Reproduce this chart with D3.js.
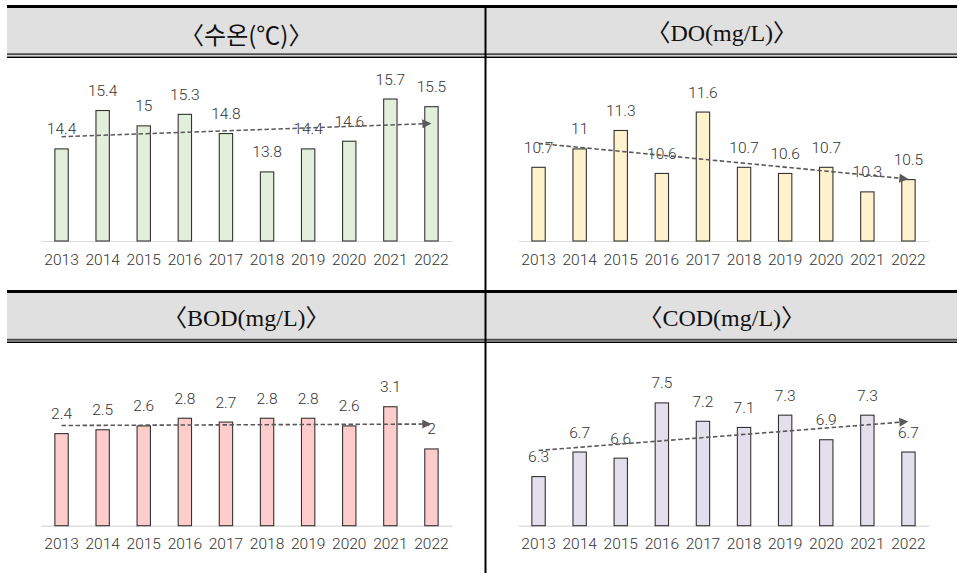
<!DOCTYPE html>
<html>
<head>
<meta charset="utf-8">
<script src="https://cdn.jsdelivr.net/npm/d3@7"></script>
<style>
  html, body { margin: 0; padding: 0; background: #fff; }
  svg { display: block; }
</style>
</head>
<body>
<svg id="chart" width="958" height="573"></svg>
<script>
// ---- data ----
const years = ["2013", "2014", "2015", "2016", "2017", "2018", "2019", "2020", "2021", "2022"];
const waterTemp = [14.4, 15.4, 15, 15.3, 14.8, 13.8, 14.4, 14.6, 15.7, 15.5];
const dissolvedOxygen = [10.7, 11, 11.3, 10.6, 11.6, 10.7, 10.6, 10.7, 10.3, 10.5];
const bodValues = [2.4, 2.5, 2.6, 2.8, 2.7, 2.8, 2.8, 2.6, 3.1, 2];
const codValues = [6.3, 6.7, 6.6, 7.5, 7.2, 7.1, 7.3, 6.9, 7.3, 6.7];
const titles = ["〈수온(℃)〉", "〈DO(mg/L)〉", "〈BOD(mg/L)〉", "〈COD(mg/L)〉"];
const tempDomain = [12, 16];
const doDomain = [9.5, 12];
const bodDomain = [0, 4];
const codDomain = [5.5, 8];

// ---- layout / style ----
const svg = d3.select("#chart");
const W = 958, H = 573;
const divX = 485.5;
const panels = [
  { title: titles[0], values: waterTemp, domain: tempDomain, fill: "#e2efda", x0: 41, x1: 452, base: 241, titleY: 33, font: "'Noto Sans CJK KR', sans-serif", size: "24px", cx: (7 + divX) / 2 },
  { title: titles[1], values: dissolvedOxygen, domain: doDomain, fill: "#fff2cc", x0: 518, x1: 929, base: 241, titleY: 33, font: "'Liberation Serif', 'Noto Sans CJK KR', serif", size: "24px", cx: (divX + W) / 2 },
  { title: titles[2], values: bodValues, domain: bodDomain, fill: "#ffcccc", x0: 41, x1: 452, base: 525.7, titleY: 318, font: "'Liberation Serif', 'Noto Sans CJK KR', serif", size: "24px", cx: (7 + divX) / 2 },
  { title: titles[3], values: codValues, domain: codDomain, fill: "#e4dfec", x0: 518, x1: 929, base: 525.7, titleY: 318, font: "'Liberation Serif', 'Noto Sans CJK KR', serif", size: "24px", cx: (divX + W) / 2 }
];
const plotH = 153.5;
const numFont = "Roboto, 'Noto Sans', sans-serif";

// header backgrounds
[[8, 53.3], [293, 338.7]].forEach(([t, b]) => {
  svg.append("rect").attr("x", 7).attr("y", t).attr("width", W - 8).attr("height", b - t).attr("fill", "#e0e0e0");
});
// table rules
function hline(y, w, c) {
  svg.append("line").attr("x1", 7).attr("x2", W - 1).attr("y1", y).attr("y2", y)
    .attr("stroke", c).attr("stroke-width", w);
}
hline(6.5, 3, "#000");
hline(54.3, 2, "#4a4a4a");
hline(57.3, 1.4, "#000");
hline(291.5, 3, "#000");
hline(339.7, 2, "#4a4a4a");
hline(342.2, 1.4, "#000");
svg.append("line").attr("x1", divX).attr("x2", divX).attr("y1", 5).attr("y2", H)
  .attr("stroke", "#000").attr("stroke-width", 2);

// arrow marker
const defs = svg.append("defs");
defs.append("marker").attr("id", "arrow").attr("viewBox", "0 0 10 10")
  .attr("refX", 9).attr("refY", 5).attr("markerWidth", 10).attr("markerHeight", 9)
  .attr("markerUnits", "userSpaceOnUse").attr("orient", "auto")
  .append("path").attr("d", "M0,0 L10,5 L0,10 Z").attr("fill", "#595959");

panels.forEach(p => {
  // title
  svg.append("text").attr("x", p.cx).attr("y", p.titleY).attr("text-anchor", "middle")
    .attr("dominant-baseline", "central")
    .style("font-family", p.font).style("font-size", p.size)
    .attr("fill", "#111").text(p.title);

  const x = d3.scaleBand().domain(years).range([p.x0, p.x1]).paddingInner(0.675).paddingOuter(0.3375);
  const y = d3.scaleLinear().domain(p.domain).range([p.base, p.base - plotH]);
  const g = svg.append("g");

  // baseline axis
  const axis = d3.axisBottom(x).tickSize(0).tickPadding(0);
  const ax = g.append("g").attr("transform", `translate(0,${p.base})`).call(axis);
  ax.select(".domain").attr("stroke", "#d9d9d9").attr("stroke-width", 1.2);
  ax.selectAll("text").attr("dy", null).attr("y", 23.5)
    .style("font-family", numFont).style("font-size", "15.5px").style("font-weight", 300).attr("fill", "#333");

  // bars
  g.selectAll("rect.bar").data(p.values).join("rect").attr("class", "bar")
    .attr("x", (d, i) => x(years[i])).attr("width", x.bandwidth())
    .attr("y", d => y(d)).attr("height", d => p.base - y(d))
    .attr("fill", p.fill).attr("stroke", "#333").attr("stroke-width", 1.1);

  // value labels
  g.selectAll("text.val").data(p.values).join("text").attr("class", "val")
    .attr("x", (d, i) => x(years[i]) + x.bandwidth() / 2).attr("y", d => y(d) - 14.5)
    .attr("text-anchor", "middle")
    .style("font-family", numFont).style("font-size", "15.5px").style("font-weight", 300).attr("fill", "#333")
    .text(d => d);

  // linear trend line (least squares fit of the series)
  const n = p.values.length;
  const mx = d3.mean(d3.range(n)), my = d3.mean(p.values);
  const slope = d3.sum(p.values, (v, i) => (i - mx) * (v - my)) / d3.sum(d3.range(n), i => (i - mx) ** 2);
  const at = i => my + slope * (i - mx);
  const cx0 = x(years[0]) + x.bandwidth() / 2;
  const cx1 = x(years[n - 1]) + x.bandwidth() / 2 - 1;
  g.append("line").attr("x1", cx0).attr("y1", y(at(0))).attr("x2", cx1).attr("y2", y(at(n - 1)))
    .attr("stroke", "#595959").attr("stroke-width", 1.6).attr("stroke-dasharray", "4.5,2.5")
    .attr("marker-end", "url(#arrow)");
});
</script>
</body>
</html>
